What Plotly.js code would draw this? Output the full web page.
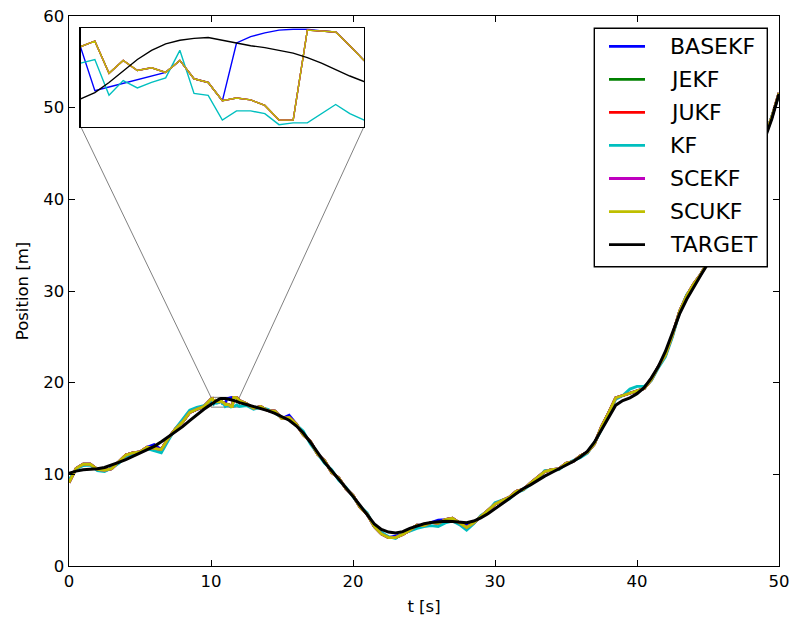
<!DOCTYPE html>
<html>
<head>
<meta charset="utf-8">
<script src="https://cdn.plot.ly/plotly-3.0.1.min.js"></script>
<style>
  html, body { margin: 0; padding: 0; background: #ffffff; }
  #chart { width: 795px; height: 623px; }
</style>
</head>
<body>
<div id="chart"></div>
<script>
// Sample times [s]: 0.5 s steps, with 0.1 s steps inside the magnified window 10-12 s
const timeS = [
  0, 0.5, 1, 1.5, 2, 2.5, 3, 3.5, 4, 4.5, 5, 5.5, 6, 6.5, 7, 7.5, 8, 8.5, 9, 9.5,
  10, 10.1, 10.2, 10.3, 10.4, 10.5, 10.6, 10.7, 10.8, 10.9, 11, 11.1, 11.2, 11.3, 11.4, 11.5, 11.6, 11.7, 11.8, 11.9, 12,
  12.5, 13, 13.5, 14, 14.5, 15, 15.5, 16, 16.5, 17, 17.5, 18, 18.5, 19, 19.5, 20, 20.5, 21, 21.5, 22, 22.5, 23, 23.5, 24,
  24.5, 25, 25.5, 26, 26.5, 27, 27.5, 28, 28.5, 29, 29.5, 30, 30.5, 31, 31.5, 32, 32.5, 33, 33.5, 34, 34.5, 35, 35.5, 36,
  36.5, 37, 37.5, 38, 38.5, 39, 39.5, 40, 40.5, 41, 41.5, 42, 42.5, 43, 43.5, 44, 44.5, 45, 45.5, 46, 46.5, 47, 47.5, 48,
  48.5, 49, 49.5, 50
];

// True target position [m]
const targetPos = [
  10.1, 10.35, 10.5, 10.55, 10.6, 10.75, 11.0, 11.3, 11.6, 11.95, 12.3, 12.65, 13.05, 13.55, 14.1, 14.65, 15.2, 15.85, 16.5, 17.1,
  17.63, 17.70, 17.81, 17.94, 18.06, 18.16, 18.23, 18.27, 18.29, 18.30, 18.27, 18.24, 18.21, 18.19, 18.16, 18.13, 18.08, 18.02, 17.95, 17.88, 17.82,
  17.62, 17.4, 17.2, 16.95, 16.65, 16.3, 15.9, 15.3, 14.5, 13.5, 12.4, 11.3, 10.4, 9.5, 8.55, 7.6, 6.6, 5.55, 4.6, 4.0, 3.7, 3.6, 3.75, 4.1,
  4.35, 4.6, 4.75, 4.85, 4.88, 4.85, 4.8, 4.72, 4.9, 5.25, 5.7, 6.25, 6.85, 7.4, 7.95, 8.45, 8.85, 9.35, 9.8, 10.2, 10.6, 11.0, 11.4, 11.9,
  12.5, 13.5, 14.9, 16.3, 17.55, 18.05, 18.35, 18.8, 19.45, 20.5, 21.75, 23.4, 25.4, 27.5, 29.1, 30.5, 31.75, 33.0, 34.4, 35.9, 37.5, 39.2, 41.0, 42.8,
  44.7, 46.6, 48.8, 51.5
];

// BASEKF estimate [m]
const basekfPos = [
  9.1, 10.65, 11.1, 11.1, 10.55, 10.45, 10.6, 11.4, 12.1, 12.35, 12.45, 12.95, 13.25, 12.7, 13.95, 14.95, 15.7, 16.75, 17.1, 17.4,
  18.19, 17.72, 17.76, 17.80, 17.84, 17.88, 17.92, 18.05, 17.85, 17.81, 17.61, 18.24, 18.31, 18.35, 18.38, 18.39, 18.39, 18.37, 18.36, 18.21, 18.05,
  17.7, 17.2, 17.4, 16.95, 16.9, 16.1, 16.45, 15.5, 14.3, 13.6, 12.2, 11.5, 10.2, 9.6, 8.45, 7.7, 6.4, 5.65, 4.3, 3.5, 3.1, 3.25, 3.45, 3.9,
  4.45, 4.4, 4.75, 5.0, 5.05, 5.2, 4.7, 4.45, 4.7, 5.35, 6.1, 6.75, 7.15, 7.5, 8.15, 8.35, 9.05, 9.65, 10.3, 10.5, 10.6, 11.2, 11.4, 12.0,
  12.4, 13.3, 15.2, 16.7, 18.35, 18.6, 18.85, 19.1, 19.35, 20.3, 21.75, 23.0, 25.2, 27.8, 29.5, 30.8, 31.85, 33.2, 34.5, 36.1, 37.4, 39.3, 41.2, 42.7,
  44.9, 46.8, 49.0, 51.6
];

// JEKF, JUKF, SCEKF and SCUKF estimates coincide [m]
const jointFilterPos = [
  9.1, 10.65, 11.1, 11.1, 10.55, 10.45, 10.6, 11.4, 12.1, 12.35, 12.45, 12.95, 12.85, 12.7, 13.95, 14.95, 15.7, 16.75, 17.1, 17.4,
  18.20, 18.26, 17.91, 18.05, 17.94, 17.97, 17.92, 18.05, 17.85, 17.81, 17.61, 17.64, 17.62, 17.56, 17.40, 17.40, 18.38, 18.37, 18.36, 18.21, 18.05,
  17.7, 17.2, 17.4, 16.95, 16.9, 16.1, 16.2, 15.5, 14.3, 13.6, 12.2, 11.5, 10.2, 9.6, 8.45, 7.7, 6.4, 5.65, 4.3, 3.5, 3.1, 3.1, 3.45, 3.9,
  4.45, 4.4, 4.75, 4.65, 5.05, 5.2, 4.7, 4.2, 4.7, 5.35, 6.1, 6.75, 7.15, 7.5, 8.15, 8.35, 9.05, 9.65, 10.3, 10.5, 10.6, 11.2, 11.4, 12.0,
  12.4, 13.3, 15.2, 16.7, 18.35, 18.6, 18.85, 19.1, 19.35, 20.3, 21.75, 23.0, 25.2, 27.8, 29.5, 30.8, 31.85, 33.2, 34.5, 36.1, 37.4, 39.3, 41.2, 42.7,
  44.9, 46.8, 49.0, 51.6
];

// KF estimate [m]
const kfPos = [
  9.4, 10.55, 10.95, 11.0, 10.4, 10.3, 10.7, 11.2, 11.95, 12.2, 12.4, 12.8, 12.6, 12.35, 13.7, 15.0, 16.0, 17.0, 17.3, 17.5,
  18.02, 18.06, 17.67, 17.83, 17.75, 17.81, 17.86, 18.16, 17.69, 17.67, 17.40, 17.50, 17.50, 17.47, 17.35, 17.37, 17.37, 17.47, 17.57, 17.47, 17.40,
  17.5, 17.1, 17.3, 17.1, 16.7, 16.15, 16.1, 15.4, 14.7, 13.3, 12.3, 11.2, 10.5, 9.35, 8.6, 7.5, 6.5, 5.8, 4.3, 3.7, 3.2, 3.0, 3.6, 3.8,
  4.1, 4.3, 4.4, 4.3, 4.7, 4.9, 4.5, 3.9, 4.6, 5.5, 6.0, 6.9, 7.2, 7.3, 8.0, 8.3, 8.9, 9.5, 10.4, 10.45, 10.5, 11.1, 11.5, 11.8,
  12.3, 13.4, 14.9, 16.6, 18.2, 18.6, 19.3, 19.6, 19.6, 20.2, 21.6, 22.8, 25.0, 27.7, 29.6, 30.6, 31.9, 33.1, 34.6, 36.0, 37.5, 39.2, 41.1, 42.8,
  44.8, 46.7, 49.1, 51.4
];

const seriesNames  = ['BASEKF', 'JEKF', 'JUKF', 'KF', 'SCEKF', 'SCUKF', 'TARGET'];
const seriesColors = ['#0000ff', '#008000', '#ff0000', '#00bfbf', '#bf00bf', '#bfbf00', '#000000'];
const seriesValues = [basekfPos, jointFilterPos, jointFilterPos, kfPos, jointFilterPos, jointFilterPos, targetPos];

const xTicks = [0, 10, 20, 30, 40, 50];
const yTicks = [0, 10, 20, 30, 40, 50, 60];
const xRange = [0, 50];
const yRange = [0, 60];
const zoomX = [10, 12];
const zoomY = [17.33, 18.40];

// ---- geometry (pixels) ----
const W = 795, H = 623;
const M = { l: 69, r: 16, t: 16, b: 57 };
const PW = W - M.l - M.r, PH = H - M.t - M.b;
const px2paper = px => (px - M.l) / PW;
const py2paper = py => (H - M.b - py) / PH;

const FONT = 'DejaVu Sans, Liberation Sans, sans-serif';

const insetDomX = [px2paper(80.7), px2paper(364)];
const insetDomY = [py2paper(126.5), py2paper(28.3)];

// ---- traces: main axes, then the magnified inset ----
const traces = [];
seriesNames.forEach((name, i) => {
  traces.push({
    type: 'scatter', mode: 'lines', name: name,
    x: timeS, y: seriesValues[i],
    xaxis: 'x', yaxis: 'y',
    line: { color: seriesColors[i], width: name === 'TARGET' ? 3 : 2.8 },
    showlegend: false, hoverinfo: 'skip'
  });
});
seriesNames.forEach((name, i) => {
  traces.push({
    type: 'scatter', mode: 'lines', name: name,
    x: timeS, y: seriesValues[i],
    xaxis: 'x2', yaxis: 'y2',
    line: { color: seriesColors[i], width: 1.4 },
    showlegend: false, hoverinfo: 'skip'
  });
});

// ---- shapes: zoom rectangle, connector lines, legend ----
const toPaperX = v => (v - xRange[0]) / (xRange[1] - xRange[0]);
const toPaperY = v => (v - yRange[0]) / (yRange[1] - yRange[0]);

const shapes = [
  { type: 'rect', xref: 'x', yref: 'y', x0: zoomX[0], x1: zoomX[1], y0: zoomY[0], y1: zoomY[1],
    line: { color: '#808080', width: 1 }, fillcolor: 'rgba(0,0,0,0)', layer: 'below' },
  { type: 'line', xref: 'paper', yref: 'paper',
    x0: insetDomX[0], y0: insetDomY[0], x1: toPaperX(zoomX[0]), y1: toPaperY(zoomY[1]),
    line: { color: '#808080', width: 1 }, layer: 'below' },
  { type: 'line', xref: 'paper', yref: 'paper',
    x0: insetDomX[1], y0: insetDomY[0], x1: toPaperX(zoomX[1]), y1: toPaperY(zoomY[1]),
    line: { color: '#808080', width: 1 }, layer: 'below' }
];

const annotations = [];
const LEG = { left: 594.3, right: 767.3, top: 28.3, bottom: 266.7, lineX0: 609, lineX1: 645, textX: 668, firstY: 46.3, step: 33.05 };
shapes.push({
  type: 'rect', xref: 'paper', yref: 'paper',
  x0: px2paper(LEG.left), x1: px2paper(LEG.right), y0: py2paper(LEG.bottom), y1: py2paper(LEG.top),
  line: { color: '#000000', width: 1.4 }, fillcolor: '#ffffff', layer: 'above'
});
seriesNames.forEach((name, i) => {
  const yy = py2paper(LEG.firstY + i * LEG.step);
  shapes.push({
    type: 'line', xref: 'paper', yref: 'paper',
    x0: px2paper(LEG.lineX0), x1: px2paper(LEG.lineX1), y0: yy, y1: yy,
    line: { color: seriesColors[i], width: 2.8 }, layer: 'above'
  });
  annotations.push({
    xref: 'paper', yref: 'paper', x: px2paper(LEG.textX), y: yy,
    xanchor: 'left', yanchor: 'middle', showarrow: false,
    text: name, font: { family: FONT, size: 22, color: '#000000' }
  });
});

const mainAxis = {
  showgrid: false, zeroline: false,
  showline: true, linecolor: '#000000', linewidth: 1.4, mirror: 'ticks',
  ticks: 'inside', ticklen: 6, tickwidth: 1, tickcolor: '#000000',
  tickfont: { family: FONT, size: 16.5, color: '#000000' },
  fixedrange: true
};
const insetAxis = {
  showgrid: false, zeroline: false, showticklabels: false, ticks: '',
  showline: true, linecolor: '#000000', linewidth: 1.4, mirror: true,
  fixedrange: true
};

const layout = {
  width: W, height: H,
  margin: M,
  paper_bgcolor: '#ffffff', plot_bgcolor: '#ffffff',
  showlegend: false,
  font: { family: FONT, color: '#000000' },
  xaxis: Object.assign({}, mainAxis, {
    domain: [0, 1], range: xRange, tickvals: xTicks, anchor: 'y',
    title: { text: 't [s]', font: { family: FONT, size: 16.5, color: '#000000' }, standoff: 10 }
  }),
  yaxis: Object.assign({}, mainAxis, {
    domain: [0, 1], range: yRange, tickvals: yTicks, anchor: 'x',
    title: { text: 'Position [m]', font: { family: FONT, size: 16.5, color: '#000000' }, standoff: 10 }
  }),
  xaxis2: Object.assign({}, insetAxis, { domain: insetDomX, range: zoomX, anchor: 'y2' }),
  yaxis2: Object.assign({}, insetAxis, { domain: insetDomY, range: zoomY, anchor: 'x2' }),
  shapes: shapes,
  annotations: annotations
};

Plotly.newPlot('chart', traces, layout, { staticPlot: true, displayModeBar: false });
</script>
</body>
</html>
